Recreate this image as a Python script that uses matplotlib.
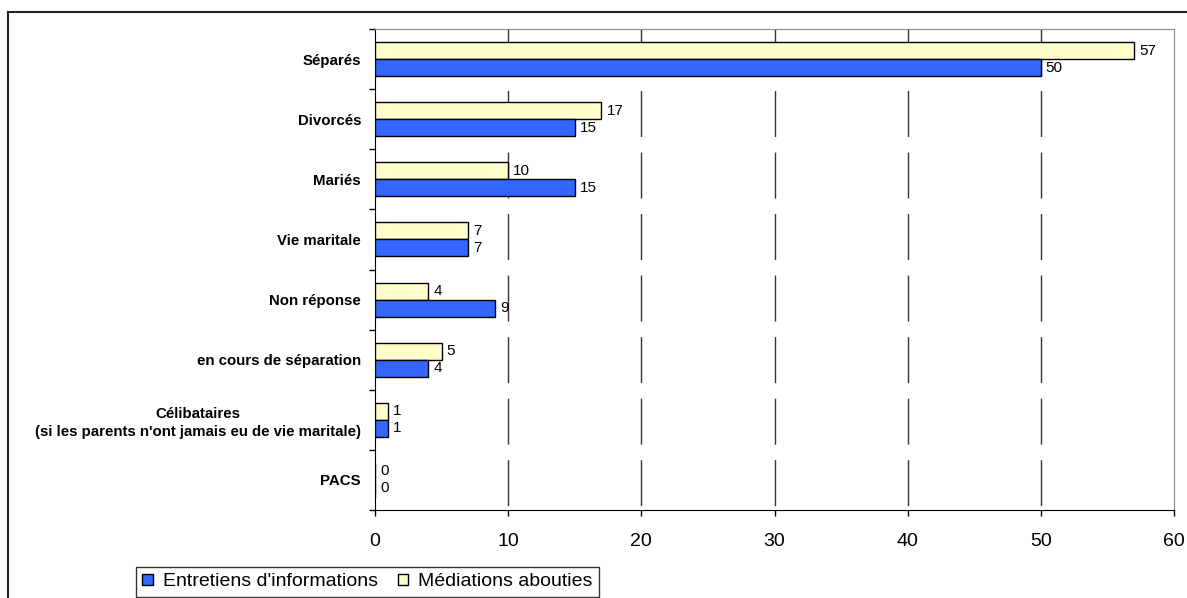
import matplotlib
matplotlib.use('Agg')
import matplotlib.pyplot as plt
from matplotlib.lines import Line2D
from matplotlib.patches import Patch
import numpy as np

plt.rcParams['font.family'] = ['Liberation Sans', 'DejaVu Sans']
plt.rcParams['lines.scale_dashes'] = False

# data
categories = ['Séparés', 'Divorcés', 'Mariés', 'Vie maritale', 'Non réponse',
              'en cours de séparation',
              "Célibataires\n(si les parents n'ont jamais eu de vie maritale)",
              'PACS']
entretiens = [50, 15, 15, 7, 9, 4, 1, 0]
mediations = [57, 17, 10, 7, 4, 5, 1, 0]
xticks = [0, 10, 20, 30, 40, 50, 60]

blue = '#3366FF'
yellow = '#FFFFCC'

fig = plt.figure(figsize=(11.87, 5.98), dpi=100)
ax = fig.add_axes([375 / 1187, 1 - 510 / 598, (1174 - 375) / 1187, (510 - 29) / 598])

pos = np.arange(len(categories))
h = 0.283
ax.barh(pos - h / 2, mediations, height=h, color=yellow, edgecolor='black', linewidth=1, zorder=3)
ax.barh(pos + h / 2, entretiens, height=h, color=blue, edgecolor='black', linewidth=1, zorder=3)

for p, v in zip(pos, mediations):
    ax.annotate(str(v), (v, p - h / 2), xytext=(3.6, 0), textcoords='offset points',
                va='center', ha='left', fontsize=11)
for p, v in zip(pos, entretiens):
    ax.annotate(str(v), (v, p + h / 2), xytext=(3.6, 0), textcoords='offset points',
                va='center', ha='left', fontsize=11)

# dashed vertical gridlines, pattern starting at the top
for v in xticks[1:-1]:
    ax.plot([v, v], [-0.5, len(categories) - 0.5], color='#333333', lw=1,
            linestyle=(0, (33.1, 11.2)), zorder=1)

ax.set_xlim(0, 60)
ax.set_ylim(len(categories) - 0.5, -0.5)
ax.set_xticks(xticks)
ax.set_xticklabels([str(t) for t in xticks], fontsize=14)
ax.tick_params(axis='x', direction='out', length=4.3, width=1, pad=12)

ax.set_yticks(pos)
ax.set_yticklabels(categories, fontsize=10.8, fontweight='bold')
for lab in ax.get_yticklabels():
    lab.set_multialignment('center')
    lab.set_linespacing(1.3)
ax.tick_params(axis='y', which='major', length=0, pad=10)
ax.set_yticks(np.arange(len(categories) + 1) - 0.5, minor=True)
ax.tick_params(axis='y', which='minor', direction='out', length=4.3, width=1)

ax.spines['left'].set_color('black')
ax.spines['bottom'].set_color('black')
ax.spines['top'].set_color('#8c8c8c')
ax.spines['right'].set_color('#8c8c8c')

handles = [Patch(facecolor=blue, edgecolor='black', lw=1),
           Patch(facecolor=yellow, edgecolor='black', lw=1)]
leg = fig.legend(handles, ["Entretiens d'informations", 'Médiations abouties'],
                 loc='upper left', bbox_to_anchor=(136 / 1187, 1 - 567 / 598),
                 ncol=2, fontsize=14, frameon=True, fancybox=False,
                 borderpad=0.33, handlelength=0.52, handleheight=0.5,
                 handletextpad=0.55, columnspacing=1.0, borderaxespad=0)
leg.get_frame().set_edgecolor('black')
leg.get_frame().set_linewidth(1)

# outer frame (top and left edges visible)
fig.add_artist(Line2D([8 / 1187, 1], [1 - 12 / 598, 1 - 12 / 598], color='#222222', lw=1.5))
fig.add_artist(Line2D([8 / 1187, 8 / 1187], [0, 1 - 12 / 598], color='#222222', lw=1.5))

fig.savefig('out.png', dpi=100)
